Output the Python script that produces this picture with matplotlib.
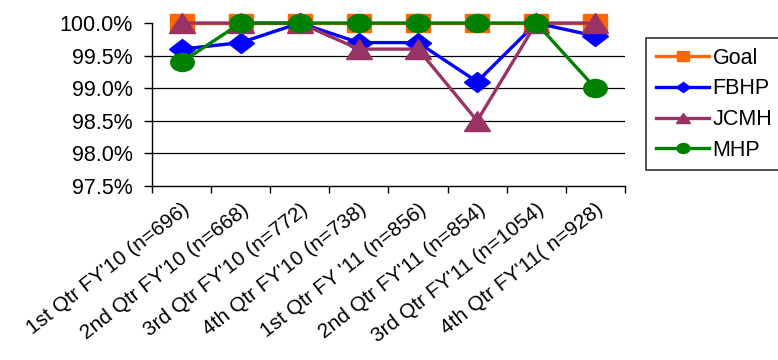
import numpy as np
import matplotlib
matplotlib.use("Agg")
import matplotlib.pyplot as plt
from matplotlib.markers import MarkerStyle
from matplotlib.transforms import Affine2D
from matplotlib.ticker import FuncFormatter

categories = [
    "1st Qtr FY'10 (n=696)",
    "2nd Qtr FY'10 (n=668)",
    "3rd Qtr FY'10 (n=772)",
    "4th Qtr FY'10 (n=738)",
    "1st Qtr FY '11 (n=856)",
    "2nd Qtr FY'11 (n=854)",
    "3rd Qtr FY'11 (n=1054)",
    "4th Qtr FY'11( n=928)",
]
goal = [100.0, 100.0, 100.0, 100.0, 100.0, 100.0, 100.0, 100.0]
fbhp = [99.6, 99.7, 100.0, 99.7, 99.7, 99.1, 100.0, 99.8]
jcmh = [100.0, 100.0, 100.0, 99.6, 99.6, 98.5, 100.0, 100.0]
mhp = [99.4, 100.0, 100.0, 100.0, 100.0, 100.0, 100.0, 99.0]
y_ticks = [97.5, 98.0, 98.5, 99.0, 99.5, 100.0]

plt.rcParams["font.family"] = ["Liberation Sans", "DejaVu Sans"]

fig = plt.figure(figsize=(7.78, 3.6), dpi=100)
ax = fig.add_axes([0.1954, 0.4833, 0.6079, 0.4527])

# the reference looks stretched sideways, so widen the markers a bit
wide = Affine2D().scale(1.3, 1.0)

x = np.arange(len(categories))
series = [
    ("Goal", goal, "#FF6600", "s", 13),
    ("FBHP", fbhp, "#0000FF", "D", 10),
    ("JCMH", jcmh, "#993366", "^", 14),
    ("MHP", mhp, "#008000", "o", 13),
]
for name, vals, color, marker, ms in series:
    ax.plot(x, vals, color=color, marker=MarkerStyle(marker, transform=wide),
            markersize=ms, linewidth=2.4, label=name, clip_on=False)

ax.set_xlim(-0.5, len(categories) - 0.5)
ax.set_ylim(97.5, 100.0)
ax.set_yticks(y_ticks)
ax.yaxis.set_major_formatter(FuncFormatter(lambda v, p: f"{v:.1f}%"))

ax.set_xticks(x)
ax.set_xticklabels(categories, rotation=38, ha="right", rotation_mode="anchor",
                   fontsize=15)
ax.set_xticks(np.arange(len(categories) + 1) - 0.5, minor=True)
ax.tick_params(axis="x", which="major", length=0, pad=10)
ax.tick_params(axis="x", which="minor", length=5, width=1, direction="out")
ax.tick_params(axis="y", length=6, width=1, direction="out", labelsize=15.5, pad=8)

for v in y_ticks[1:-1]:
    ax.axhline(v, color="black", linewidth=0.9, zorder=0)

for side in ["top", "right"]:
    ax.spines[side].set_visible(False)
for side in ["left", "bottom"]:
    ax.spines[side].set_linewidth(1)
    ax.spines[side].set_color("black")

leg = fig.legend(loc="upper left", bbox_to_anchor=(0.8303, 0.8944), fontsize=15.5,
                 frameon=True, fancybox=False, edgecolor="black", markerscale=0.55,
                 handlelength=2.5, handletextpad=0.15, labelspacing=0.45,
                 borderpad=0.45, borderaxespad=0)
leg.get_frame().set_linewidth(1.2)

fig.savefig("out.png", dpi=100)
